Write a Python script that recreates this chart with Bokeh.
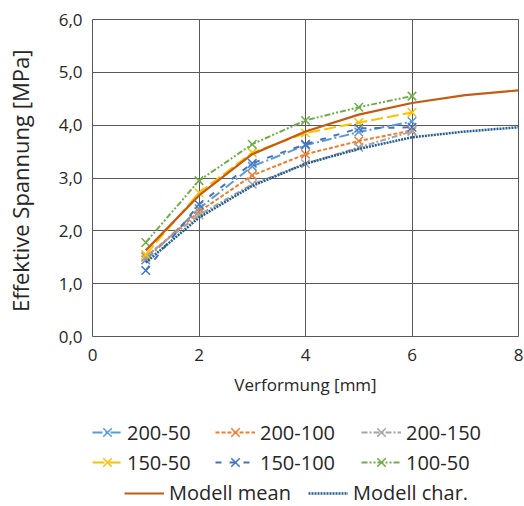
from bokeh.plotting import figure
from bokeh.layouts import column
from bokeh.models import Legend, LegendItem, CustomJSTickFormatter, FixedTicker, Range1d
from bokeh.embed import file_html
from bokeh.resources import INLINE

x_meas = [1, 2, 3, 4, 5, 6]
s200_50 = [1.45, 2.42, 3.22, 3.62, 3.87, 4.07]
s200_100 = [1.50, 2.36, 3.05, 3.45, 3.70, 3.90]
s200_150 = [1.52, 2.30, 2.88, 3.27, 3.58, 3.88]
s150_50 = [1.55, 2.72, 3.48, 3.85, 4.05, 4.24]
s150_100 = [1.25, 2.50, 3.28, 3.64, 3.94, 3.96]
s100_50 = [1.78, 2.95, 3.64, 4.09, 4.34, 4.55]

x_model = [1, 2, 3, 4, 5, 6, 7, 8]
model_mean = [1.63, 2.67, 3.45, 3.88, 4.20, 4.42, 4.57, 4.66]
model_char = [1.40, 2.25, 2.85, 3.27, 3.55, 3.77, 3.88, 3.96]

FONT = "Open Sans"
TXT = "#262626"

p = figure(width=524, height=410, output_backend="svg", toolbar_location=None,
           x_range=Range1d(0, 8), y_range=Range1d(0, 6),
           min_border_left=92, min_border_right=6, min_border_top=19, min_border_bottom=74)

p.background_fill_color = "white"
p.border_fill_color = "white"
p.outline_line_color = "#595959"
p.outline_line_width = 1

for ax in (p.xaxis, p.yaxis):
    ax.axis_line_color = None
    ax.major_tick_line_color = None
    ax.minor_tick_line_color = None
    ax.major_tick_out = 0
    ax.major_tick_in = 0
    ax.minor_tick_out = 0
    ax.major_label_text_font = FONT
    ax.major_label_text_font_size = "17px"
    ax.major_label_text_color = TXT
    ax.axis_label_text_font = FONT
    ax.axis_label_text_font_size = "17px"
    ax.axis_label_text_font_style = "normal"
    ax.axis_label_text_color = TXT

p.yaxis.axis_label_text_font_size = "22px"
p.xaxis.ticker = FixedTicker(ticks=[0, 2, 4, 6, 8])
p.yaxis.ticker = FixedTicker(ticks=[0, 1, 2, 3, 4, 5, 6])
p.yaxis.formatter = CustomJSTickFormatter(code="return tick.toFixed(1).replace('.', ',');")
p.xaxis.axis_label = "Verformung [mm]"
p.yaxis.axis_label = "Effektive Spannung  [MPa]"
p.xaxis.major_label_standoff = 12
p.yaxis.major_label_standoff = 10
p.xaxis.axis_label_standoff = 9
p.yaxis.axis_label_standoff = 21

p.xgrid.grid_line_color = "#595959"
p.ygrid.grid_line_color = "#595959"
p.xgrid.grid_line_width = 1
p.ygrid.grid_line_width = 1

series = [
    ("200-50", s200_50, "#5B9BD5", "10 3 2 3"),
    ("200-100", s200_100, "#ED7D31", "4 2"),
    ("200-150", s200_150, "#A5A5A5", "6 2 2 2"),
    ("150-50", s150_50, "#FFC000", "12 4"),
    ("150-100", s150_100, "#4472C4", "6 8"),
    ("100-50", s100_50, "#70AD47", "6 2 2 2 2 2"),
]
MEAN_COL, CHAR_COL = "#C55A11", "#255E91"

def draw(fig):
    out = {}
    for name, ys, col, dash in series:
        l = fig.line(x_meas, ys, line_color=col, line_width=2, line_dash=dash)
        s = fig.scatter(x_meas, ys, marker="x", size=12, line_color=col, line_width=1.5)
        out[name] = [l, s]
    out["Modell mean"] = [fig.line(x_model, model_mean, line_color=MEAN_COL, line_width=2.2)]
    out["Modell char."] = [fig.line(x_model, model_char, line_color=CHAR_COL, line_width=2.5,
                                    line_dash="2 1")]
    return out

draw(p)

# legend strip below the chart: same series, view range placed away from the data
lp = figure(width=524, height=96, output_backend="svg", toolbar_location=None,
            x_range=Range1d(-30, -20), y_range=Range1d(-30, -20),
            min_border_left=0, min_border_right=0, min_border_top=0, min_border_bottom=0)
lp.axis.visible = False
lp.grid.visible = False
lp.outline_line_color = None
rends = draw(lp)

def style(leg, spacing, gw=40, gh=30):
    leg.label_text_font = FONT
    leg.label_text_font_size = "20px"
    leg.label_text_color = TXT
    leg.border_line_color = None
    leg.background_fill_alpha = 0
    leg.glyph_width = gw
    leg.glyph_height = gh
    leg.label_height = 20
    leg.label_standoff = 5
    leg.padding = 0
    leg.margin = 0
    leg.spacing = spacing
    return leg

cols = [(["200-50", "150-50"], 0, 30), (["200-100", "150-100"], 123, 40),
        (["200-150", "100-50"], 269, 40)]
for names, xpos, gw in cols:
    leg = style(Legend(items=[LegendItem(label=n, renderers=rends[n]) for n in names],
                       orientation="vertical", location=(xpos, 29)), 0, gw, 30)
    lp.add_layout(leg, "center")

leg2 = style(Legend(items=[LegendItem(label=n, renderers=rends[n])
                           for n in ("Modell mean", "Modell char.")],
                    orientation="horizontal", location=(32, 0)), 17, 40, 20)
lp.add_layout(leg2, "center")

layout = column(p, lp, spacing=0)
open("out.html", "w").write(file_html(layout, INLINE))
